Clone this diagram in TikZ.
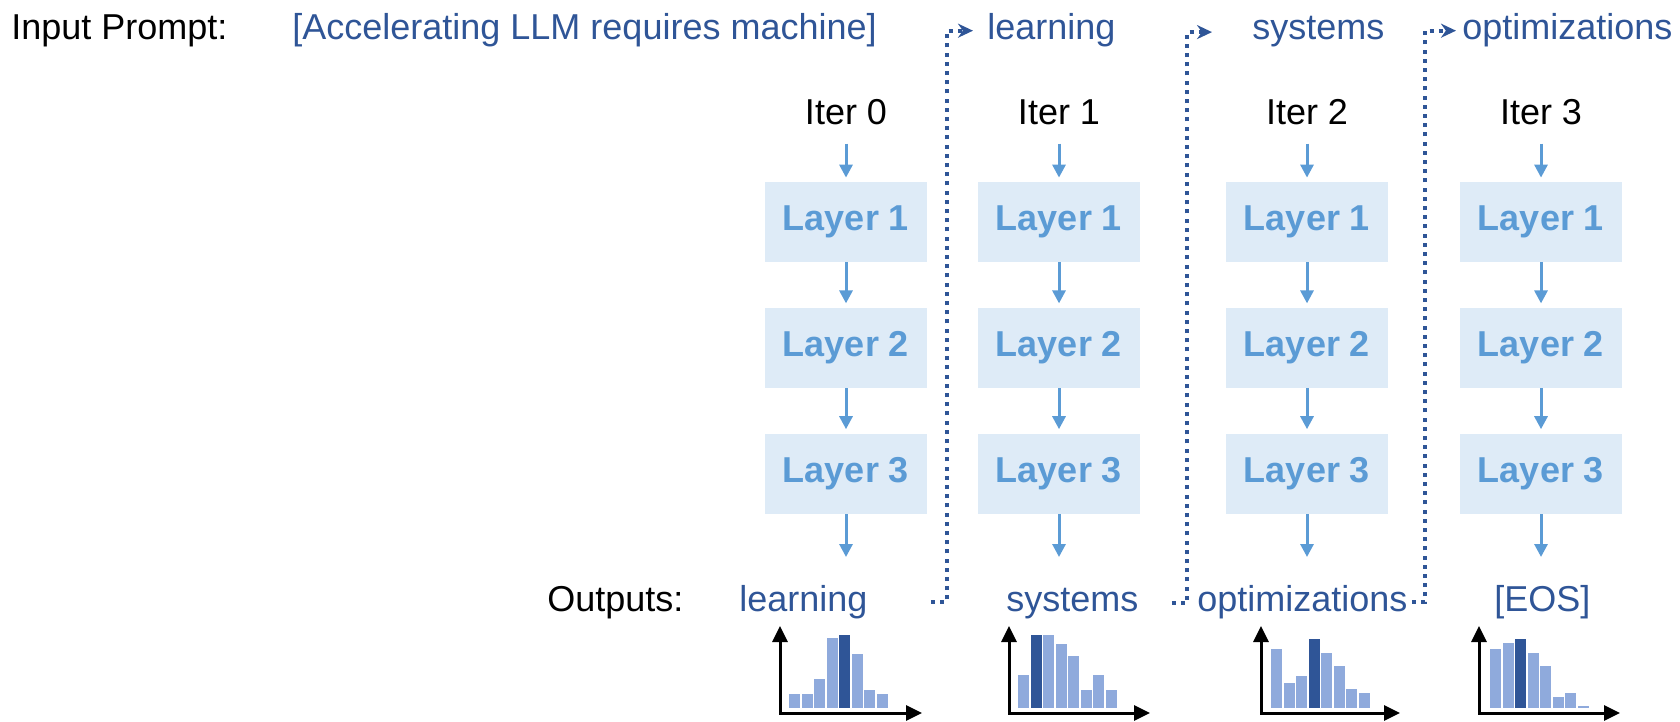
\documentclass[tikz,border=0pt]{standalone}
\usepackage{fontspec}
\setmainfont{Liberation Sans}
\usetikzlibrary{positioning, arrows.meta}

\definecolor{wordblue}{RGB}{47,85,151}
\definecolor{flowblue}{RGB}{91,155,213}
\definecolor{boxfill}{RGB}{222,235,247}
\definecolor{barlight}{RGB}{143,170,220}

\begin{document}
\begin{tikzpicture}[
    x=0.5pt, y=-0.5pt,
    every node/.style={font=\fontsize{18}{21.6}\selectfont, inner sep=2pt},
    layer/.style={rectangle, fill=boxfill, minimum width=81pt, minimum height=40pt, text=flowblue, font=\fontsize{18}{21.6}\selectfont\bfseries},
    lbl/.style={text=black},
    word/.style={text=wordblue},
    flow/.style={-{Triangle[length=6.5pt, width=6.5pt]}, draw=flowblue, line width=1.5pt},
    link/.style={-{Stealth[length=7.5pt, width=7pt]}, draw=wordblue, line width=2pt, dash pattern=on 2pt off 2.6pt},
    axis/.style={{Triangle[length=8pt, width=7.5pt]}-{Triangle[length=8pt, width=7.5pt]}, line width=1.5pt},
]
\useasboundingbox (0,0) rectangle (1680,722);

% ========== PROMPT ROW ==========
\node[lbl, anchor=base west] (inlab) at (7,40) {Input Prompt:};
\node[word, anchor=base west] (prompt) at (288,40) {[Accelerating LLM requires machine]};
\node[word, anchor=base west] (tok1) at (983,40) {learning};
\node[word, anchor=base west] (tok2) at (1248,40) {systems};
\node[word, anchor=base west] (tok3) at (1458,40) {optimizations};

% ========== ITERATIONS ==========
% Iter 0
\node[layer] (l0a) at (846,222) {Layer 1};
\node[layer, below=22.5pt of l0a] (l0b) {Layer 2};
\node[layer, below=22.5pt of l0b] (l0c) {Layer 3};
\node[lbl, above=26pt of l0a] (it0) {Iter 0};
\coordinate[below=21.5pt of l0c] (e0);

% Iter 1
\node[layer] (l1a) at (1059,222) {Layer 1};
\node[layer, below=22.5pt of l1a] (l1b) {Layer 2};
\node[layer, below=22.5pt of l1b] (l1c) {Layer 3};
\node[lbl, above=26pt of l1a] (it1) {Iter 1};
\coordinate[below=21.5pt of l1c] (e1);

% Iter 2
\node[layer] (l2a) at (1307,222) {Layer 1};
\node[layer, below=22.5pt of l2a] (l2b) {Layer 2};
\node[layer, below=22.5pt of l2b] (l2c) {Layer 3};
\node[lbl, above=26pt of l2a] (it2) {Iter 2};
\coordinate[below=21.5pt of l2c] (e2);

% Iter 3
\node[layer] (l3a) at (1541,222) {Layer 1};
\node[layer, below=22.5pt of l3a] (l3b) {Layer 2};
\node[layer, below=22.5pt of l3b] (l3c) {Layer 3};
\node[lbl, above=26pt of l3a] (it3) {Iter 3};
\coordinate[below=21.5pt of l3c] (e3);

% ========== OUTPUT ROW ==========
\node[lbl, anchor=base west] (outlab) at (543,611) {Outputs:};
\node[word, anchor=base west] (out0) at (735,611) {learning};
\node[word, anchor=base west] (out1) at (1002,611) {systems};
\node[word, anchor=base west] (out2) at (1193,611) {optimizations};
\node[word, anchor=base west] (out3) at (1490,611) {[EOS]};

% ========== ARROWS (forward pass) ==========
\draw[flow, shorten <=7pt, shorten >=2pt] (it0) -- (l0a);
\draw[flow, shorten >=2pt] (l0a) -- (l0b);
\draw[flow, shorten >=2pt] (l0b) -- (l0c);
\draw[flow] (l0c) -- (e0);

\draw[flow, shorten <=7pt, shorten >=2pt] (it1) -- (l1a);
\draw[flow, shorten >=2pt] (l1a) -- (l1b);
\draw[flow, shorten >=2pt] (l1b) -- (l1c);
\draw[flow] (l1c) -- (e1);

\draw[flow, shorten <=7pt, shorten >=2pt] (it2) -- (l2a);
\draw[flow, shorten >=2pt] (l2a) -- (l2b);
\draw[flow, shorten >=2pt] (l2b) -- (l2c);
\draw[flow] (l2c) -- (e2);

\draw[flow, shorten <=7pt, shorten >=2pt] (it3) -- (l3a);
\draw[flow, shorten >=2pt] (l3a) -- (l3b);
\draw[flow, shorten >=2pt] (l3b) -- (l3c);
\draw[flow] (l3c) -- (e3);

% ========== FEEDBACK (output -> next input) ==========
\coordinate (k1) at (947,300);
\coordinate (k2) at (1187,300);
\coordinate (k3) at (1425,300);
\draw[link, shorten <=29.5pt, shorten >=5pt] (out0.east) -| (k1) |- (tok1.west);
\draw[link, shorten <=14.5pt, shorten >=18pt] (out1.east) -| (k2) |- (tok2.west);
\draw[link, shorten >=1pt] (out2.east) -| (k3) |- (tok3.west);

% ========== DISTRIBUTIONS ==========
\draw[axis] (780,626) -- (780,713) -- (922,713);
\foreach \h/\c [count=\i] in {14/barlight, 14/barlight, 29/barlight, 70/barlight, 73/wordblue, 54/barlight, 18/barlight, 14/barlight}
    \fill[\c] ({789+(\i-1)*12.5}, 708) rectangle ++(11, -\h);

\draw[axis] (1009,626) -- (1009,713) -- (1150,713);
\foreach \h/\c [count=\i] in {33/barlight, 73/wordblue, 73/barlight, 64/barlight, 52/barlight, 18/barlight, 33/barlight, 18/barlight}
    \fill[\c] ({1018+(\i-1)*12.5}, 708) rectangle ++(11, -\h);

\draw[axis] (1261,626) -- (1261,713) -- (1400,713);
\foreach \h/\c [count=\i] in {59/barlight, 25/barlight, 32/barlight, 69/wordblue, 55/barlight, 42/barlight, 19/barlight, 15/barlight}
    \fill[\c] ({1271+(\i-1)*12.5}, 708) rectangle ++(11, -\h);

\draw[axis] (1479,626) -- (1479,713) -- (1620,713);
\foreach \h/\c [count=\i] in {59/barlight, 65/barlight, 69/wordblue, 55/barlight, 42/barlight, 11/barlight, 15/barlight, 2/barlight}
    \fill[\c] ({1490+(\i-1)*12.5}, 708) rectangle ++(11, -\h);

\end{tikzpicture}
\end{document}
